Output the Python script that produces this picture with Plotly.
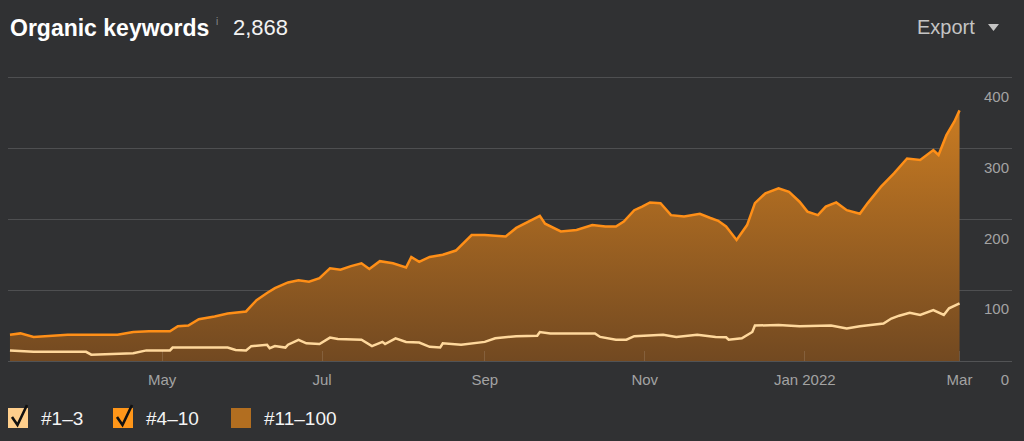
import plotly.graph_objects as go

# values
top10_dates = [
    "2021-03-04", "2021-03-08", "2021-03-13", "2021-03-26", "2021-04-07", "2021-04-14",
    "2021-04-20", "2021-04-26", "2021-05-04", "2021-05-07", "2021-05-11", "2021-05-15",
    "2021-05-21", "2021-05-26", "2021-06-02", "2021-06-06", "2021-06-10", "2021-06-13",
    "2021-06-18", "2021-06-22", "2021-06-26", "2021-06-30", "2021-07-04", "2021-07-08",
    "2021-07-12", "2021-07-16", "2021-07-19", "2021-07-23", "2021-07-28", "2021-08-02",
    "2021-08-04", "2021-08-07", "2021-08-11", "2021-08-16", "2021-08-21", "2021-08-27",
    "2021-09-01", "2021-09-05", "2021-09-09", "2021-09-13", "2021-09-18", "2021-09-22",
    "2021-09-24", "2021-09-30", "2021-10-06", "2021-10-12", "2021-10-17", "2021-10-21",
    "2021-10-24", "2021-10-28", "2021-10-31", "2021-11-03", "2021-11-07", "2021-11-11",
    "2021-11-16", "2021-11-22", "2021-11-26", "2021-11-29", "2021-12-02", "2021-12-06",
    "2021-12-10", "2021-12-13", "2021-12-17", "2021-12-22", "2021-12-26", "2021-12-30",
    "2022-01-02", "2022-01-06", "2022-01-09", "2022-01-13", "2022-01-17", "2022-01-22",
    "2022-01-25", "2022-01-30", "2022-02-04", "2022-02-09", "2022-02-14", "2022-02-19",
    "2022-02-21", "2022-02-24", "2022-02-27", "2022-03-01",
]
top10_values = [
    37, 39, 34, 37, 37, 37,
    41, 42, 42, 49, 50, 59,
    63, 67, 70, 86, 96, 103,
    111, 114, 112, 117, 131, 129,
    134, 138, 130, 141, 138, 132,
    147, 140, 147, 150, 156, 178,
    178, 177, 176, 188, 197, 205,
    194, 183, 185, 192, 190, 190,
    197, 213, 218, 224, 223, 206,
    204, 208, 202, 198, 190, 171,
    192, 223, 237, 244, 239, 225,
    211, 206, 218, 224, 213, 208,
    223, 246, 265, 286, 284, 298,
    291, 319, 338, 354,
]

top3_dates = [
    "2021-03-04", "2021-03-13", "2021-04-02", "2021-04-04", "2021-04-20", "2021-04-25",
    "2021-05-04", "2021-05-05", "2021-05-26", "2021-05-29", "2021-06-02", "2021-06-04",
    "2021-06-10", "2021-06-11", "2021-06-13", "2021-06-17", "2021-06-18", "2021-06-22",
    "2021-06-25", "2021-06-30", "2021-07-04", "2021-07-07", "2021-07-16", "2021-07-20",
    "2021-07-24", "2021-07-25", "2021-07-29", "2021-08-02", "2021-08-07", "2021-08-11",
    "2021-08-15", "2021-08-16", "2021-08-23", "2021-09-01", "2021-09-05", "2021-09-13",
    "2021-09-21", "2021-09-22", "2021-09-26", "2021-10-13", "2021-10-15", "2021-10-21",
    "2021-10-25", "2021-10-28", "2021-11-08", "2021-11-13", "2021-11-21", "2021-11-28",
    "2021-12-02", "2021-12-03", "2021-12-08", "2021-12-12", "2021-12-13", "2021-12-22",
    "2021-12-30", "2022-01-04", "2022-01-11", "2022-01-17", "2022-01-22", "2022-01-31",
    "2022-02-03", "2022-02-06", "2022-02-10", "2022-02-14", "2022-02-19", "2022-02-23",
    "2022-02-25", "2022-03-01",
]
top3_values = [
    15, 13, 13, 9, 11, 15,
    15, 19, 19, 15.5, 15, 21,
    23, 18, 21, 19, 23, 30,
    25, 24, 33, 31, 30, 21,
    27, 24, 32, 27, 26, 20,
    19, 25, 23, 27, 32, 35,
    35.6, 41, 39, 39, 34, 30,
    30, 35, 37, 34, 37, 34,
    33.5, 30, 32, 41, 50, 51,
    49, 49, 50, 46, 49, 53,
    60, 64, 68, 65, 72, 65,
    74.5, 81.5,
]

x_tickvals = ["2021-05-01", "2021-07-01", "2021-09-01", "2021-11-01", "2022-01-01", "2022-03-01"]
x_ticktext = ["May", "Jul", "Sep", "Nov", "Jan 2022", "Mar"]
y_tickvals = [0, 100, 200, 300, 400]

legend_names = ["#1–3", "#4–10", "#11–100"]
legend_colors = ["#ffcf8c", "#ff9619", "#b26e20"]
legend_checked = [True, True, False]

BG = "#303133"
FONT = "Liberation Sans, Arial, sans-serif"

# plot box in pixels
L, R, T, B = 8, 12, 75, 80
W, H = 1024, 441
plot_w = W - L - R
plot_h = H - T - B


def px(x):
    return (x - L) / plot_w


def py(y):
    return (H - B - y) / plot_h


fig = go.Figure()

fig.add_trace(go.Scatter(
    x=top10_dates, y=top10_values, mode="lines",
    line=dict(color="#ff8f17", width=2.5),
    fill="tozeroy",
    fillgradient=dict(type="vertical", start=0, stop=360,
                      colorscale=[[0, "rgb(114,73,33)"], [1, "rgb(202,124,34)"]]),
    hoverinfo="skip",
))
fig.add_trace(go.Scatter(
    x=top3_dates, y=top3_values, mode="lines",
    line=dict(color="#ffd89c", width=2.5),
    hoverinfo="skip",
))

# header
fig.add_annotation(x=px(8), y=py(28), xref="paper", yref="paper", xanchor="left", yanchor="middle",
                   text="<b>Organic keywords</b>", showarrow=False,
                   font=dict(family=FONT, size=23, color="#ffffff"))
fig.add_annotation(x=px(214), y=py(22), xref="paper", yref="paper", xanchor="left", yanchor="middle",
                   text="i", showarrow=False,
                   font=dict(family=FONT, size=10, color="#8a8a8a"))
fig.add_annotation(x=px(231), y=py(28), xref="paper", yref="paper", xanchor="left", yanchor="middle",
                   text="2,868", showarrow=False,
                   font=dict(family=FONT, size=22, color="#f2f2f2"))
fig.add_annotation(x=px(915), y=py(27), xref="paper", yref="paper", xanchor="left", yanchor="middle",
                   text="Export", showarrow=False,
                   font=dict(family=FONT, size=20, color="#c4c4c4"))
fig.add_shape(type="path", xref="paper", yref="paper",
              path=f"M {px(988)},{py(24)} L {px(999)},{py(24)} L {px(993.5)},{py(31)} Z",
              fillcolor="#c4c4c4", line=dict(width=0))

# legend boxes
box_x = [8, 113, 231]
text_x = [39, 144, 262]
for bx, tx, name, col, chk in zip(box_x, text_x, legend_names, legend_colors, legend_checked):
    fig.add_shape(type="rect", xref="paper", yref="paper",
                  x0=px(bx), x1=px(bx + 20), y0=py(428), y1=py(408),
                  fillcolor=col, line=dict(width=0))
    if chk:
        fig.add_shape(type="path", xref="paper", yref="paper",
                      path=f"M {px(bx + 4)},{py(417)} L {px(bx + 9.5)},{py(425)} L {px(bx + 19)},{py(405)}",
                      line=dict(color="#111111", width=2.6))
    fig.add_annotation(x=px(tx), y=py(418), xref="paper", yref="paper", xanchor="left", yanchor="middle",
                       text=name, showarrow=False,
                       font=dict(family=FONT, size=19, color="#f4f4f4"))

fig.update_layout(
    width=W, height=H,
    margin=dict(l=L, r=R, t=T, b=B),
    paper_bgcolor=BG, plot_bgcolor=BG,
    showlegend=False,
    font=dict(family=FONT, color="#a3a3a3", size=15),
)
fig.update_xaxes(
    type="date", range=["2021-03-03 06:00", "2022-03-21"],
    tickvals=x_tickvals, ticktext=x_ticktext,
    showgrid=False, zeroline=False, showline=False,
    ticks="inside", ticklen=10, tickcolor="rgba(255,255,255,0.12)",
    ticklabelstandoff=8,
    tickfont=dict(size=15, color="#a3a3a3"),
)
fig.update_yaxes(
    range=[0, 404], side="right", tickvals=y_tickvals,
    ticklabelposition="inside", ticklabelshift=19, ticklabeloverflow="allow",
    showgrid=True, gridcolor="rgba(255,255,255,0.15)", gridwidth=1,
    zeroline=True, zerolinecolor="rgba(255,255,255,0.17)", zerolinewidth=1,
    layer="above traces",
    tickfont=dict(size=15, color="#a3a3a3"),
)

# page body has a default 8px margin; drop it so the figure fills the window
fig.write_html("out.html", config={"displayModeBar": False},
               post_script="document.body.style.margin='0px';")
